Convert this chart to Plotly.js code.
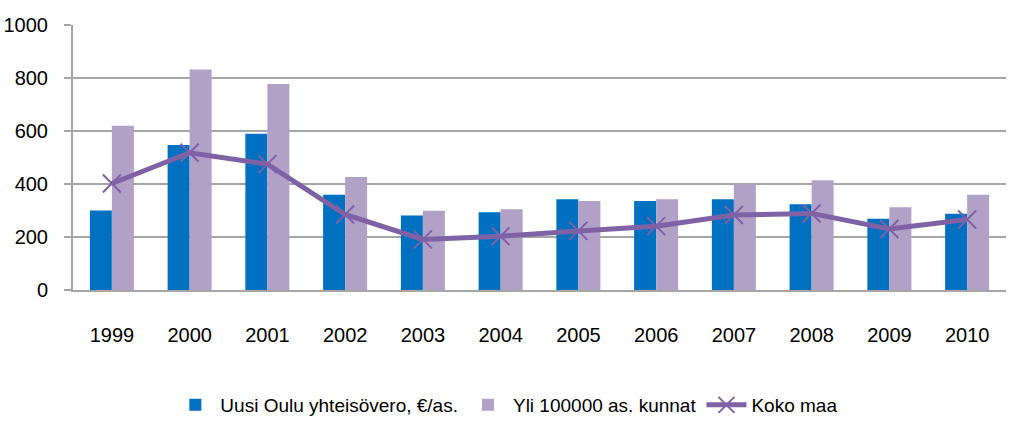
<!DOCTYPE html>
<html>
<head>
<meta charset="utf-8">
<script src="https://cdn.plot.ly/plotly-3.0.1.min.js"></script>
<style>html,body{margin:0;padding:0;background:#fff}#chart{width:1013px;height:444px}</style>
</head>
<body>
<div id="chart"></div>
<script>
const years = ['1999','2000','2001','2002','2003','2004','2005','2006','2007','2008','2009','2010'];
const uusiOulu = [300, 547, 590, 359, 281, 293, 342, 336, 342, 324, 269, 288];
const yli100000 = [620, 832, 777, 426, 299, 305, 336, 342, 399, 414, 312, 359];
const kokoMaa = [402, 518, 475, 285, 191, 203, 223, 241, 283, 289, 230, 266];
const seriesNames = ['Uusi Oulu yhteisövero, €/as.', 'Yli 100000 as. kunnat', 'Koko maa'];
const yTicks = [0, 200, 400, 600, 800, 1000];

const FONT = '"Liberation Sans", Arial, sans-serif';

const traces = [
  {type:'bar', x: years, y: uusiOulu, name: seriesNames[0], marker:{color:'#0070C0'}},
  {type:'bar', x: years, y: yli100000, name: seriesNames[1], marker:{color:'#B2A1C7'}},
  {type:'scatter', mode:'lines+markers', x: years, y: kokoMaa, name: seriesNames[2],
   line:{color:'#7F62A6', width:5},
   marker:{symbol:'x-thin', size:18, line:{color:'#7F62A6', width:2}, color:'#7F62A6'}}
];

const layout = {
  width: 1013, height: 444,
  margin: {l: 73, r: 7, t: 25, b: 154},
  paper_bgcolor: '#fff', plot_bgcolor: '#fff',
  font: {family: FONT, size: 20, color: '#000'},
  barmode: 'group', bargap: 0.434, bargroupgap: 0,
  showlegend: true,
  legend: {orientation: 'h', x: 0.465, xanchor: 'center', y: -0.434, yanchor: 'middle',
           font: {family: FONT, size: 19, color: '#000'}, traceorder: 'normal', itemwidth: 40},
  xaxis: {type: 'category', range: [-0.5, 11.5], autorange: false, showgrid: false, showline: true,
          linecolor: '#A6A6A6', linewidth: 2,
          ticks: '', ticklabelstandoff: 26, tickfont: {family: FONT, size: 20}},
  yaxis: {range: [0, 1000], autorange: false, tickvals: yTicks, ticktext: yTicks.map(String), showgrid: true,
          gridcolor: '#A6A6A6', gridwidth: 2, showline: true, linecolor: '#A6A6A6', linewidth: 2,
          ticks: 'outside', ticklen: 7, tickcolor: '#A6A6A6', tickwidth: 2,
          ticklabelstandoff: 12, zeroline: false, tickfont: {family: FONT, size: 20}}
};

Plotly.newPlot('chart', traces, layout, {displayModeBar: false, staticPlot: true});
</script>
</body>
</html>
